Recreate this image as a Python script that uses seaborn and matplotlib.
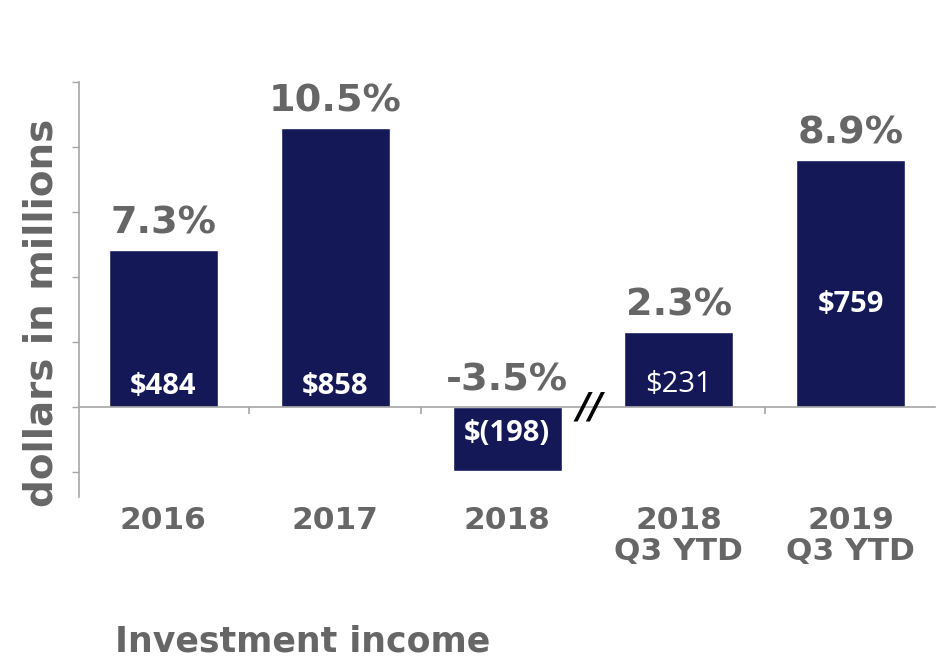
"""
Investment income bar chart (dollars in millions) with growth-rate labels.
"""

import matplotlib
matplotlib.use("Agg")
import matplotlib.pyplot as plt
import seaborn as sns
import pandas as pd

# data
CATEGORIES = ["2016", "2017", "2018", "2018\nQ3 YTD", "2019\nQ3 YTD"]
VALUES = [484, 858, -198, 231, 759]
VALUE_LABELS = ["$484", "$858", "$(198)", "$231", "$759"]
PCT_LABELS = ["7.3%", "10.5%", "-3.5%", "2.3%", "8.9%"]

# layout only (where the white value labels sit inside the bars, data units)
VALUE_LABEL_Y = [62, 62, -80, 70, 315]
VALUE_LABEL_BOLD = [True, True, True, False, True]

NAVY = "#141857"
GRAY = "#666666"
AXIS_GRAY = "#a6a6a6"

sns.set_theme(style="white")
plt.rcParams["font.family"] = ["DejaVu Sans"]

df = pd.DataFrame({"period": CATEGORIES, "income": VALUES})

fig = plt.figure(figsize=(9.42, 6.59), dpi=100)
ax = fig.add_axes([0.0839, 0.2458, 0.9087, 0.6297])

sns.barplot(data=df, x="period", y="income", color=NAVY, saturation=1,
            width=0.634, ax=ax)

ax.set_xlim(-0.49, 4.49)
ax.set_ylim(-277, 1000)
ax.set_yticks(range(-200, 1001, 200))
ax.set_yticklabels([])
ax.tick_params(axis="y", direction="out", length=5, width=1, color=AXIS_GRAY, left=True)

# zero line acts as the category axis
for side in ["top", "right"]:
    ax.spines[side].set_visible(False)
ax.spines["bottom"].set_position(("data", 0))
ax.spines["bottom"].set_color(AXIS_GRAY)
ax.spines["left"].set_color(AXIS_GRAY)
ax.spines["bottom"].set_linewidth(1.2)
ax.spines["left"].set_linewidth(1.2)

ax.set_xticks(range(len(CATEGORIES)))
ax.set_xticklabels(CATEGORIES, fontsize=22.5, fontweight="bold", color=GRAY,
                   linespacing=1.1)
ax.tick_params(axis="x", which="major", length=0, pad=71)
ax.set_xticks([0.5, 1.5, 3.5], minor=True)
ax.tick_params(axis="x", which="minor", direction="out", length=5, width=1.2,
               color=AXIS_GRAY, bottom=True)

ax.set_xlabel("")
ax.set_ylabel("dollars in millions", fontsize=28, fontweight="bold", color=GRAY)
ax.yaxis.set_label_coords(-0.022, 0.443)

# growth labels above bars
for i, (v, lab) in enumerate(zip(VALUES, PCT_LABELS)):
    ax.annotate(lab, (i, max(v, 0)), xytext=(0, 12), textcoords="offset points",
                ha="center", va="baseline", fontsize=27.5, fontweight="bold",
                color=GRAY)

# dollar labels inside bars
for i, (lab, y, bold) in enumerate(zip(VALUE_LABELS, VALUE_LABEL_Y, VALUE_LABEL_BOLD)):
    ax.text(i, y, lab, ha="center", va="center", fontsize=21,
            fontweight="bold" if bold else "normal", color="white",
            family=["Open Sans", "DejaVu Sans"])

# axis break marker between the full-year and YTD bars
ax.text(2.48, 0, "//", ha="center", va="center", fontsize=26,
        fontweight="bold", style="italic", color="black")

fig.text(115 / 942, 1 - 651 / 659, "Investment income", ha="left",
         va="baseline", fontsize=25, fontweight="bold", color=GRAY)

fig.savefig("out.png", dpi=100)
